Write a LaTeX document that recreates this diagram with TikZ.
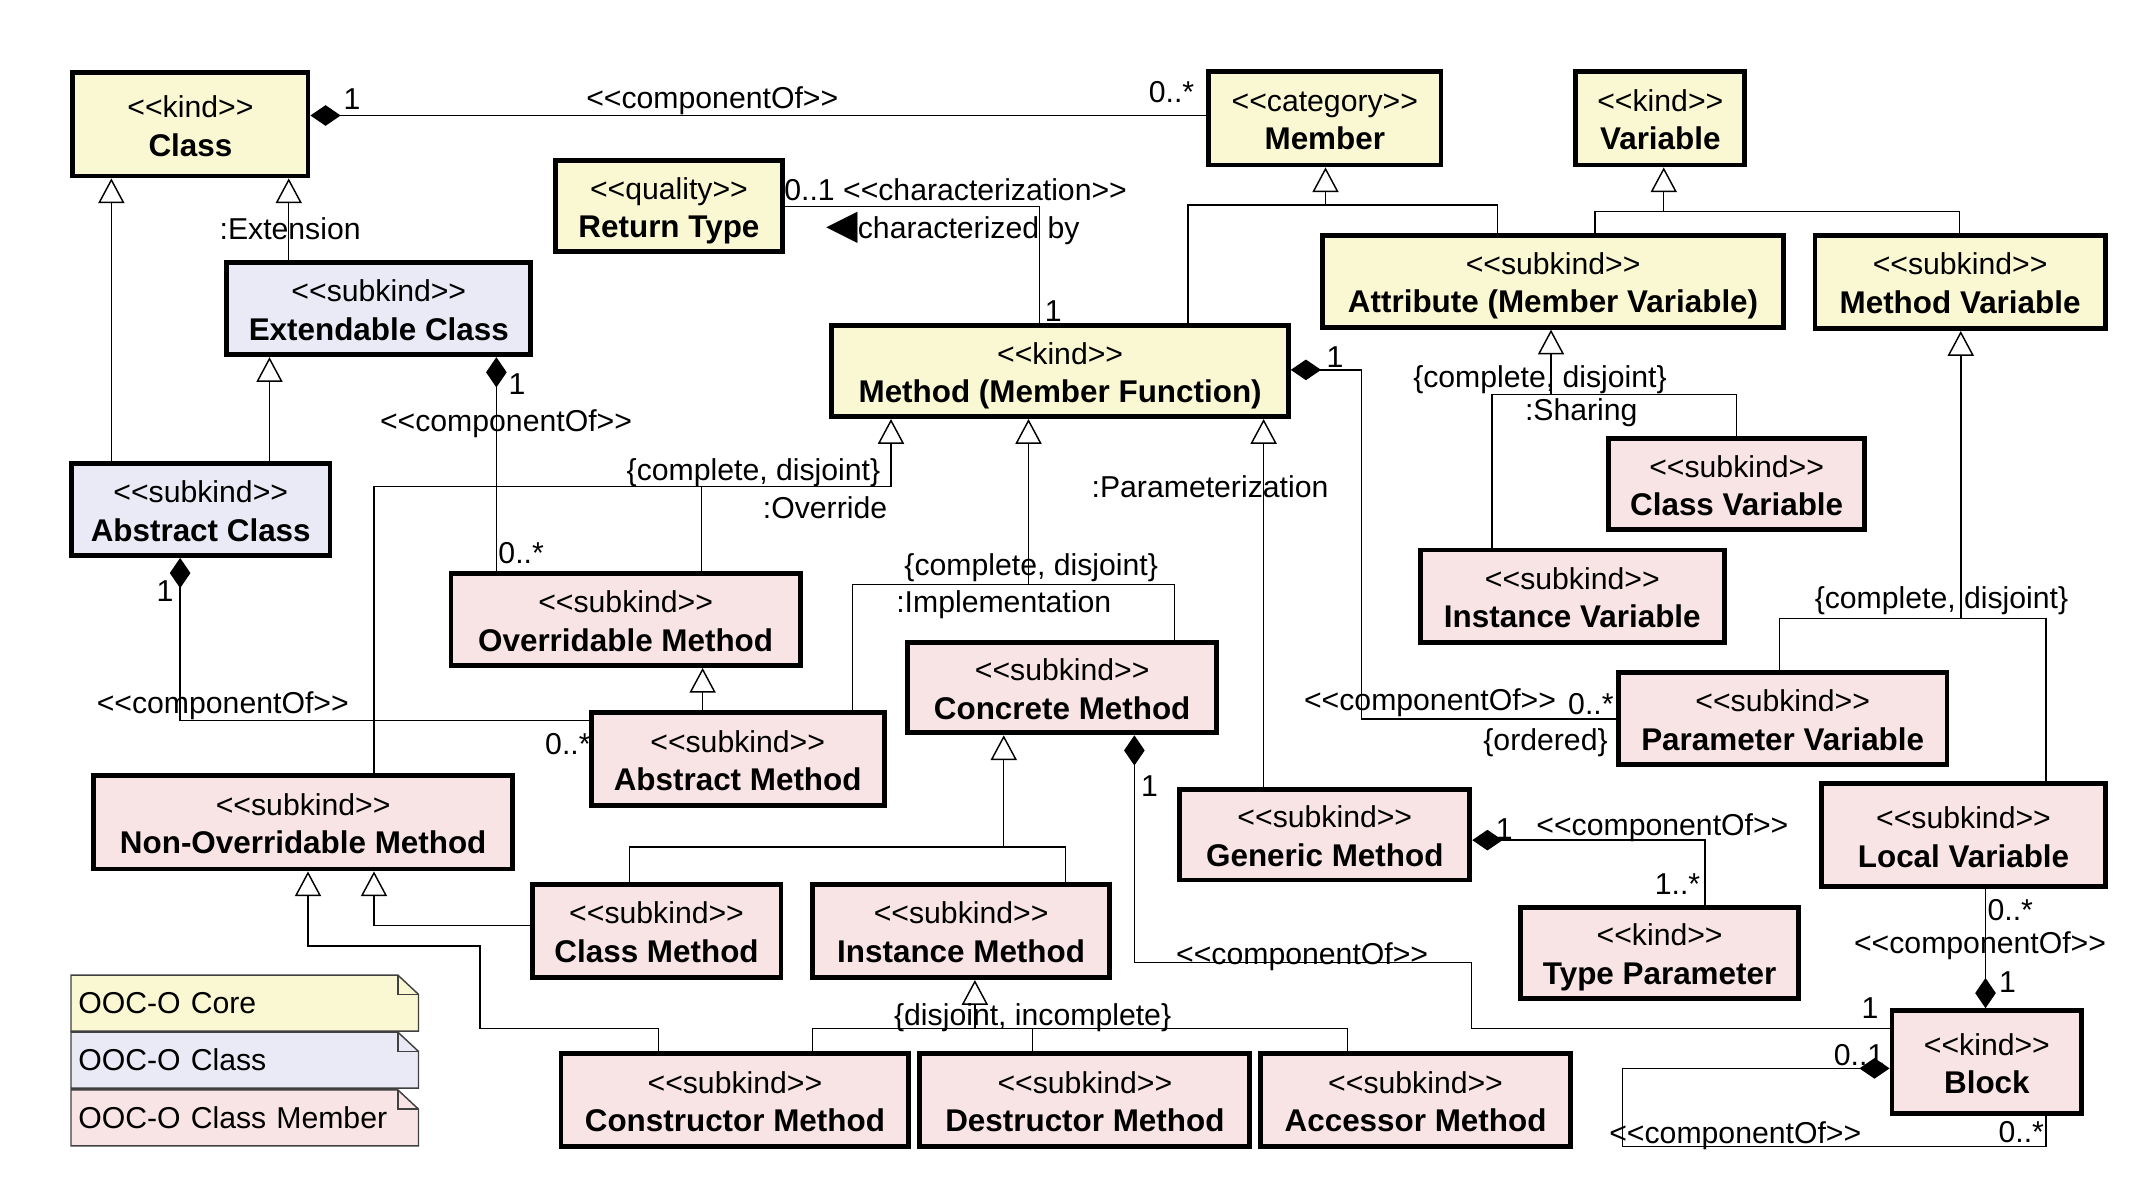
\documentclass[tikz,border=0pt]{standalone}
\usepackage{fontspec}
\setmainfont{Liberation Sans}
\newfontfamily\symfont{DejaVu Sans}
\usepackage{xcolor}
\usetikzlibrary{arrows.meta,backgrounds}
\definecolor{coreyellow}{HTML}{FAF8D2}
\definecolor{classblue}{HTML}{EAEAF7}
\definecolor{memberpink}{HTML}{F8E4E4}
\newcommand{\stereo}[1]{<\kern0pt<#1>\kern0pt>}
\newcommand{\st}[1]{\rule{0pt}{4.6mm}\stereo{#1}}
\newcommand{\nm}[1]{{\fontsize{13}{16}\selectfont\bfseries #1\rule[-1mm]{0pt}{1mm}}}
\tikzset{
  every node/.style={font=\fontsize{12.5}{16}\selectfont},
  umlbox/.style={draw=black,line width=2pt,align=center,inner sep=0pt},
  core/.style={umlbox,fill=coreyellow},
  clsbox/.style={umlbox,fill=classblue},
  mbrbox/.style={umlbox,fill=memberpink},
  legend/.style={align=left,inner sep=1mm,minimum width=50.4mm,minimum height=8mm,text width=48.4mm},
  notebox/.style={draw=black!75,line width=0.6pt},
  lbl/.style={inner sep=0pt},
  assoc/.style={line width=0.6pt},
  gen/.style={assoc,-{Triangle[fill=white,length=3.6mm,width=3.8mm]}},
  comp/.style={assoc,{Diamond[fill=black,length=4.4mm,width=3mm]}-}
}

\begin{document}
\begin{tikzpicture}[x=0.2mm,y=-0.2mm]
  \useasboundingbox (0,0) rectangle (1568,874.2);

  % OOC-O Core
  \node (class) [core,minimum width=34.2mm,minimum height=15mm] at (138.5,90.5) {\st{kind}\\\nm{Class}};
  \node (member) [core,minimum width=33.8mm,minimum height=13.6mm] at (963.5,86) {\st{category}\\\nm{Member}};
  \node (variable) [core,minimum width=24.6mm,minimum height=13.6mm] at (1207.5,86) {\st{kind}\\\nm{Variable}};
  \node (returntype) [core,minimum width=33mm,minimum height=13.2mm] at (486.5,150) {\st{quality}\\\nm{Return Type}};
  \node (attribute) [core,minimum width=67mm,minimum height=13.4mm] at (1129.5,204.5) {\st{subkind}\\\nm{Attribute (Member Variable)}};
  \node (methvar) [core,minimum width=42.2mm,minimum height=13.6mm] at (1425.5,205) {\st{subkind}\\\nm{Method Variable}};
  \node (method) [core,minimum width=66.4mm,minimum height=13.2mm] at (771,270) {\st{kind}\\\nm{Method (Member Function)}};

  % OOC-O Class
  \node (extclass) [clsbox,minimum width=44.2mm,minimum height=13.4mm] at (275.5,224.5) {\st{subkind}\\\nm{Extendable Class}};
  \node (absclass) [clsbox,minimum width=37.6mm,minimum height=13.4mm] at (146,370.5) {\st{subkind}\\\nm{Abstract Class}};

  % OOC-O Class Member
  \node (classvar) [mbrbox,minimum width=37.2mm,minimum height=13.2mm] at (1263,352) {\st{subkind}\\\nm{Class Variable}};
  \node (instvar) [mbrbox,minimum width=44.2mm,minimum height=13.4mm] at (1143.5,433.5) {\st{subkind}\\\nm{Instance Variable}};
  \node (overridable) [mbrbox,minimum width=50.8mm,minimum height=13.4mm] at (455,450.5) {\st{subkind}\\\nm{Overridable Method}};
  \node (concrete) [mbrbox,minimum width=45mm,minimum height=13.2mm] at (772.5,500) {\st{subkind}\\\nm{Concrete Method}};
  \node (abstractm) [mbrbox,minimum width=42.6mm,minimum height=13.6mm] at (536.5,552) {\st{subkind}\\\nm{Abstract Method}};
  \node (paramvar) [mbrbox,minimum width=47.8mm,minimum height=13.4mm] at (1296.5,522.5) {\st{subkind}\\\nm{Parameter Variable}};
  \node (nonoverridable) [mbrbox,minimum width=61mm,minimum height=13.6mm] at (220.5,598) {\st{subkind}\\\nm{Non-Overridable Method}};
  \node (generic) [mbrbox,minimum width=42.2mm,minimum height=13.2mm] at (963.5,607) {\st{subkind}\\\nm{Generic Method}};
  \node (localvar) [mbrbox,minimum width=41.2mm,minimum height=15mm] at (1428,607.5) {\st{subkind}\\\nm{Local Variable}};
  \node (classm) [mbrbox,minimum width=36.2mm,minimum height=13.6mm] at (477.5,677) {\st{subkind}\\\nm{Class Method}};
  \node (instm) [mbrbox,minimum width=43.2mm,minimum height=13.6mm] at (699,677) {\st{subkind}\\\nm{Instance Method}};
  \node (typeparam) [mbrbox,minimum width=40.4mm,minimum height=13.2mm] at (1207,693) {\st{kind}\\\nm{Type Parameter}};
  \node (block) [mbrbox,minimum width=27.6mm,minimum height=15mm] at (1445,772.5) {\st{kind}\\\nm{Block}};
  \node (ctor) [mbrbox,minimum width=50.6mm,minimum height=13.6mm] at (534.5,800) {\st{subkind}\\\nm{Constructor Method}};
  \node (dtor) [mbrbox,minimum width=48mm,minimum height=13.6mm] at (789,800) {\st{subkind}\\\nm{Destructor Method}};
  \node (accessor) [mbrbox,minimum width=45mm,minimum height=13.6mm] at (1029.5,800) {\st{subkind}\\\nm{Accessor Method}};

  % generalization forks
  \coordinate (memberfork) at (964,149);
  \coordinate (varfork) at (1210,154);
  \coordinate (sharefork) at (1128,287);
  \coordinate (localfork) at (1426,450);
  \coordinate (overfork) at (648,354);
  \coordinate (implfork) at (748,425);
  \coordinate (concfork) at (730,616);
  \coordinate (instfork) at (709,748);

  % generalizations
  \draw[gen] (absclass.north -| 81,0) -- (class.south -| 81,0);
  \draw[gen] (extclass.north -| 210,0) -- (class.south -| 210,0);
  \draw[gen] (absclass.north -| 196,0) -- (extclass.south -| 196,0);
  \draw[gen] (memberfork) -- (member.south -| memberfork);
  \draw[assoc] (method.north -| 864,0) |- (memberfork) -| (attribute.north -| 1089,0);
  \draw[gen] (varfork) -- (variable.south -| varfork);
  \draw[assoc] (attribute.north -| 1160,0) |- (varfork) -| (methvar.north -| 1425,0);
  \draw[gen] (sharefork) -- (attribute.south -| sharefork);
  \draw[assoc] (instvar.north -| 1085,0) |- (sharefork) -| (classvar.north -| 1263,0);
  \draw[gen] (localfork) -- (methvar.south -| localfork);
  \draw[assoc] (paramvar.north -| 1294,0) |- (localfork) -| (localvar.north -| 1488,0);
  \draw[gen] (overfork) -- (method.south -| overfork);
  \draw[assoc] (nonoverridable.north -| 272,0) |- (overfork);
  \draw[assoc] (overridable.north -| 510,0) |- (overfork);
  \draw[gen] (implfork) -- (method.south -| implfork);
  \draw[assoc] (abstractm.north -| 620,0) |- (implfork) -| (concrete.north -| 854,0);
  \draw[gen] (generic.north -| 919,0) -- (method.south -| 919,0);
  \draw[gen] (abstractm.north -| 511,0) -- (overridable.south -| 511,0);
  \draw[gen] (concfork) -- (concrete.south -| concfork);
  \draw[assoc] (classm.north -| 458,0) |- (concfork) -| (instm.north -| 775,0);
  \draw[gen] (classm.west |- 0,673) -| (nonoverridable.south -| 272,0);
  \draw[gen] (ctor.north -| 479,0) |- (349,748) |- (224,688) -- (nonoverridable.south -| 224,0);
  \draw[gen] (instfork) -- (instm.south -| instfork);
  \draw[assoc] (ctor.north -| 591,0) |- (instfork) -| (accessor.north -| 980,0);
  \draw[assoc] (dtor.north -| 751,0) |- (instfork);

  % associations
  \draw[comp] (class.east |- 0,84) -- (member.west |- 0,84);
  \draw[assoc] (returntype.east |- 0,150) -| (method.north -| 756,0);
  \draw[comp] (extclass.south -| 361,0) -- (overridable.north -| 361,0);
  \draw[comp] (absclass.south -| 131,0) |- (abstractm.west |- 0,524);
  \draw[comp] (method.east |- 0,269) -| (990,523) -- (paramvar.west |- 0,523);
  \draw[comp] (concrete.south -| 825,0) |- (1070,700) |- (block.west |- 0,748);
  \draw[comp] (generic.east |- 0,611) -| (typeparam.north -| 1240,0);
  \draw[comp] (block.north -| 1444,0) -- (localvar.south -| 1444,0);
  \draw[comp] (block.west |- 0,777) -| (1180,834) -| (block.south -| 1488,0);

  % labels
  \node (m1) [lbl] at (256,72) {1};
  \node (c1) [lbl] at (518,73) {\stereo{componentOf}};
  \node (m2) [lbl] at (852,67) {0..*};
  \node (extlbl) [lbl] at (211,166) {:Extension};
  \node (charlbl) [lbl] at (695,138) {0..1 \stereo{characterization}};
  \node (charby) [lbl] at (693,166) {{\symfont\fontsize{17}{17}\selectfont ◀}characterized by};
  \node (m3) [lbl] at (766,226) {1};
  \node (m4) [lbl] at (376,279) {1};
  \node (c2) [lbl] at (368,308) {\stereo{componentOf}};
  \node (m5) [lbl] at (379,402) {0..*};
  \node (overset) [lbl] at (548,344) {\{complete, disjoint\}};
  \node (overlbl) [lbl] at (600,369) {:Override};
  \node (implset) [lbl] at (750,413) {\{complete, disjoint\}};
  \node (impllbl) [lbl] at (730,440) {:Implementation};
  \node (paramlbl) [lbl] at (880,354) {:Parameterization};
  \node (m6) [lbl] at (120,430) {1};
  \node (c3) [lbl] at (162,513) {\stereo{componentOf}};
  \node (m7) [lbl] at (413,541) {0..*};
  \node (shareset) [lbl] at (1120,276) {\{complete, disjoint\}};
  \node (sharelbl) [lbl] at (1150,300) {:Sharing};
  \node (m8) [lbl] at (971,260) {1};
  \node (c4) [lbl] at (1040,511) {\stereo{componentOf}};
  \node (m9) [lbl] at (1157,512) {0..*};
  \node (ordlbl) [lbl] at (1124,540) {\{ordered\}};
  \node (localset) [lbl] at (1412,437) {\{complete, disjoint\}};
  \node (m10) [lbl] at (836,572) {1};
  \node (c5) [lbl] at (947,696) {\stereo{componentOf}};
  \node (m11) [lbl] at (1360,733) {1};
  \node (m12) [lbl] at (1094,603) {1};
  \node (c6) [lbl] at (1209,602) {\stereo{componentOf}};
  \node (m13) [lbl] at (1220,643) {1..*};
  \node (m14) [lbl] at (1462,662) {0..*};
  \node (c7) [lbl] at (1440,688) {\stereo{componentOf}};
  \node (m15) [lbl] at (1460,714) {1};
  \node (m16) [lbl] at (1352,767) {0..1};
  \node (c8) [lbl] at (1262,826) {\stereo{componentOf}};
  \node (m17) [lbl] at (1470,823) {0..*};
  \node (instset) [lbl] at (751,740) {\{disjoint, incomplete\}};

  % legend
  \node (lgcore) [legend] at (178,729.5) {OOC-O Core};
  \node (lgclass) [legend] at (178,771) {OOC-O Class};
  \node (lgmember) [legend] at (178,813) {OOC-O Class Member};
  \begin{scope}[on background layer]
    \foreach \lg/\col in {lgcore/coreyellow,lgclass/classblue,lgmember/memberpink} {
      \filldraw[notebox,fill=\col] (\lg.south west) -- (\lg.north west) -- ([xshift=-3mm]\lg.north east)
        -- ([yshift=-2.8mm]\lg.north east) -- (\lg.south east) -- cycle;
      \draw[notebox] ([xshift=-3mm]\lg.north east) |- ([yshift=-2.8mm]\lg.north east);
    }
  \end{scope}
\end{tikzpicture}
\end{document}
